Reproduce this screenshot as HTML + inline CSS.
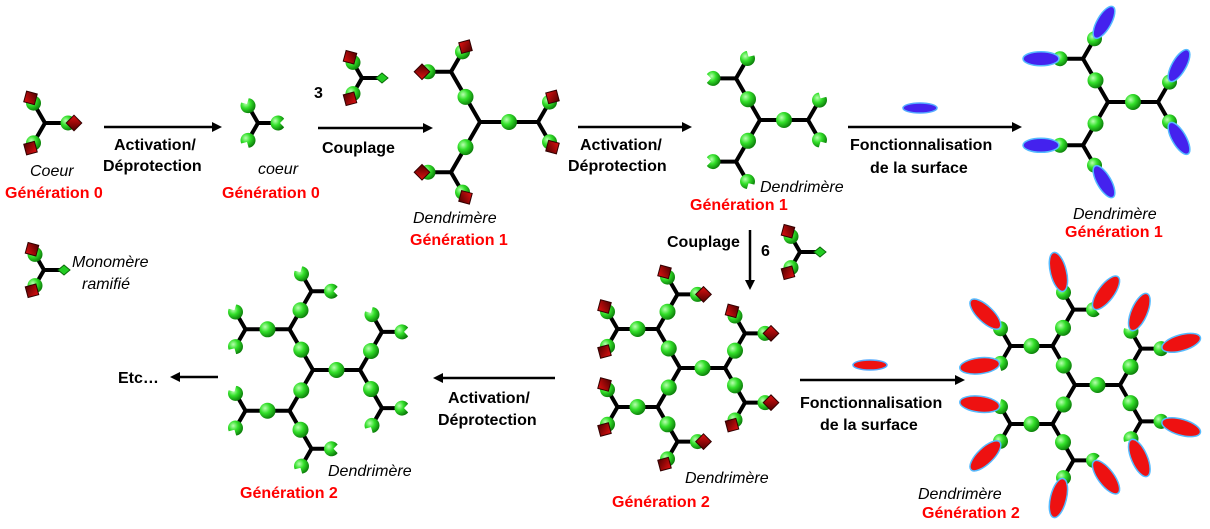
<!DOCTYPE html>
<html><head><meta charset="utf-8">
<style>
html,body{margin:0;padding:0;background:#fff;}
svg{display:block;}
text{font-family:"Liberation Sans",sans-serif;font-weight:bold;font-size:16px;}
.i{font-style:italic;font-weight:normal;font-size:16px;}
.r{fill:#f00;font-size:16px;}
</style></head><body>
<svg id="s" width="1210" height="529" viewBox="0 0 1210 529" xmlns="http://www.w3.org/2000/svg">
<defs>
<radialGradient id="g" cx="0.35" cy="0.35" r="0.7">
<stop offset="0" stop-color="#b8ffb0"/><stop offset="0.45" stop-color="#33e02a"/><stop offset="1" stop-color="#0a7a08"/>
</radialGradient>
<linearGradient id="rd" x1="0" y1="0" x2="1" y2="1">
<stop offset="0" stop-color="#e01010"/><stop offset="1" stop-color="#500000"/>
</linearGradient>
</defs>
<g id="lines" stroke="#000" stroke-width="4" stroke-linecap="round"></g>
<g id="objs"></g>
<g id="txt">
<text x="30" y="176" class="i">Coeur</text>
<text x="5" y="198" class="r">Génération 0</text>
<text x="114" y="150">Activation/</text>
<text x="103" y="171">Déprotection</text>
<text x="258" y="174" class="i">coeur</text>
<text x="222" y="198" class="r">Génération 0</text>
<text x="314" y="98">3</text>
<text x="322" y="153">Couplage</text>
<text x="413" y="223" class="i">Dendrimère</text>
<text x="410" y="245" class="r">Génération 1</text>
<text x="580" y="150">Activation/</text>
<text x="568" y="171">Déprotection</text>
<text x="760" y="192" class="i">Dendrimère</text>
<text x="690" y="210" class="r">Génération 1</text>
<text x="850" y="150">Fonctionnalisation</text>
<text x="870" y="173">de la surface</text>
<text x="1073" y="219" class="i">Dendrimère</text>
<text x="1065" y="237" class="r">Génération 1</text>
<text x="667" y="247">Couplage</text>
<text x="761" y="256">6</text>
<text x="72" y="267" class="i">Monomère</text>
<text x="82" y="289" class="i">ramifié</text>
<text x="118" y="383">Etc…</text>
<text x="448" y="403">Activation/</text>
<text x="438" y="425">Déprotection</text>
<text x="328" y="476" class="i">Dendrimère</text>
<text x="240" y="498" class="r">Génération 2</text>
<text x="685" y="483" class="i">Dendrimère</text>
<text x="612" y="507" class="r">Génération 2</text>
<text x="800" y="408">Fonctionnalisation</text>
<text x="820" y="430">de la surface</text>
<text x="918" y="499" class="i">Dendrimère</text>
<text x="922" y="518" class="r">Génération 2</text>
</g>
<g id="arrows" stroke="#000" stroke-width="2.5" fill="#000">
<line x1="104" y1="127" x2="214" y2="127"/><polygon points="222,127 212,122 212,132" stroke="none"/>
<line x1="318" y1="128" x2="425" y2="128"/><polygon points="433,128 423,123 423,133" stroke="none"/>
<line x1="578" y1="127" x2="684" y2="127"/><polygon points="692,127 682,122 682,132" stroke="none"/>
<line x1="848" y1="127" x2="1014" y2="127"/><polygon points="1022,127 1012,122 1012,132" stroke="none"/>
<line x1="750" y1="230" x2="750" y2="282"/><polygon points="750,290 745,280 755,280" stroke="none"/>
<line x1="218" y1="377" x2="178" y2="377"/><polygon points="170,377 180,372 180,382" stroke="none"/>
<line x1="555" y1="378" x2="441" y2="378"/><polygon points="433,378 443,373 443,383" stroke="none"/>
<line x1="800" y1="380" x2="957" y2="380"/><polygon points="965,380 955,375 955,385" stroke="none"/>
</g>
<ellipse cx="920" cy="108" rx="17" ry="5" fill="#4422ee" stroke="#55aaff" stroke-width="1.5"/>
<ellipse cx="870" cy="365" rx="17" ry="5" fill="#ee1111" stroke="#55aaff" stroke-width="1.5"/>
</svg>
<script>
var NS="http://www.w3.org/2000/svg";
var LG=document.getElementById("lines"),OG=document.getElementById("objs");
var CORE=[0,0];
function el(p,t,a){var e=document.createElementNS(NS,t);for(var k in a)e.setAttribute(k,a[k]);p.appendChild(e);return e;}
function u(d){var r=d*Math.PI/180;return [Math.cos(r),Math.sin(r)];}
function line(x1,y1,x2,y2){el(LG,"line",{x1:x1,y1:y1,x2:x2,y2:y2});}
function sph(x,y,r){el(OG,"circle",{cx:x,cy:y,r:r||8,fill:"url(#g)"});}
function cup(x,y,d){var r=7.5,a=35,p1=u(d-a),p2=u(d+a);
 el(OG,"path",{d:"M"+(x+p1[0]*r)+","+(y+p1[1]*r)+" A"+r+","+r+" 0 1 0 "+(x+p2[0]*r)+","+(y+p2[1]*r)+" L"+(x+u(d)[0]*2)+","+(y+u(d)[1]*2)+"Z",fill:"url(#g)"});}
function end(bx,by,d,dist,type){var v=u(d),x=bx+v[0]*dist,y=by+v[1]*dist;line(bx,by,x,y);
 if(type=="p"){sph(x,y,7.5);el(OG,"rect",{x:-5.5,y:-5.5,width:11,height:11,fill:"url(#rd)",stroke:"#300",transform:"translate("+(x+v[0]*6)+","+(y+v[1]*6)+") rotate("+(d+45)+")"});}
 else if(type=="c"){cup(x,y,d);}
 else {cup(x,y,d);var rx=type=="b"?18:20,ry=type=="b"?7:8,ed=d;
  if(type=="r"){var rad=Math.atan2(y-CORE[1],x-CORE[0])*180/Math.PI;var diff=((rad-d+540)%360)-180;ed=d+diff*0.7;}
  var w=u(ed);
  el(OG,"ellipse",{cx:0,cy:0,rx:rx,ry:ry,fill:type=="b"?"#4422ee":"#ee1111",stroke:"#55bbff","stroke-width":1.5,transform:"translate("+(x+w[0]*(rx+1))+","+(y+w[1]*(rx+1))+") rotate("+ed+")"});}
}
function tree(cx,cy,gens,L,L2,dd,type){CORE=[cx,cy];
 [0,120,240].forEach(function(d){var v=u(d),bx=cx+v[0]*L,by=cy+v[1]*L;line(cx,cy,bx,by);sph((cx+bx)/2,(cy+by)/2);
  if(gens==1){end(bx,by,d-60,dd,type);end(bx,by,d+60,dd,type);}
  else{[d-60,d+60].forEach(function(c){var w=u(c),x2=bx+w[0]*L2,y2=by+w[1]*L2;line(bx,by,x2,y2);sph((bx+x2)/2,(by+y2)/2);
   end(x2,y2,c-60,dd,type);end(x2,y2,c+60,dd,type);});}
 });
}
function core(cx,cy,dd,type){[0,120,240].forEach(function(d){end(cx,cy,d,dd,type);});}
function mono(bx,by){end(bx,by,240,18,"p");end(bx,by,120,18,"p");line(bx,by,bx+16,by);
 el(OG,"polygon",{points:(bx+14)+","+by+" "+(bx+20)+","+(by-5)+" "+(bx+26)+","+by+" "+(bx+20)+","+(by+5),fill:"#22cc22",stroke:"#0a6a08"});}
core(45,123,23,"p");
core(258,123,20,"c");
mono(362,78);mono(44,270);mono(800,252);
tree(480,122,1,58,0,23,"p");
tree(760,120,1,48,0,23,"c");
tree(1108,102,1,50,0,23,"b");
tree(313,370,2,47,44,20,"c");
tree(680,368,2,45,40,20,"p");
tree(1075,385,2,45,42,20,"r");
</script>
</body></html>
